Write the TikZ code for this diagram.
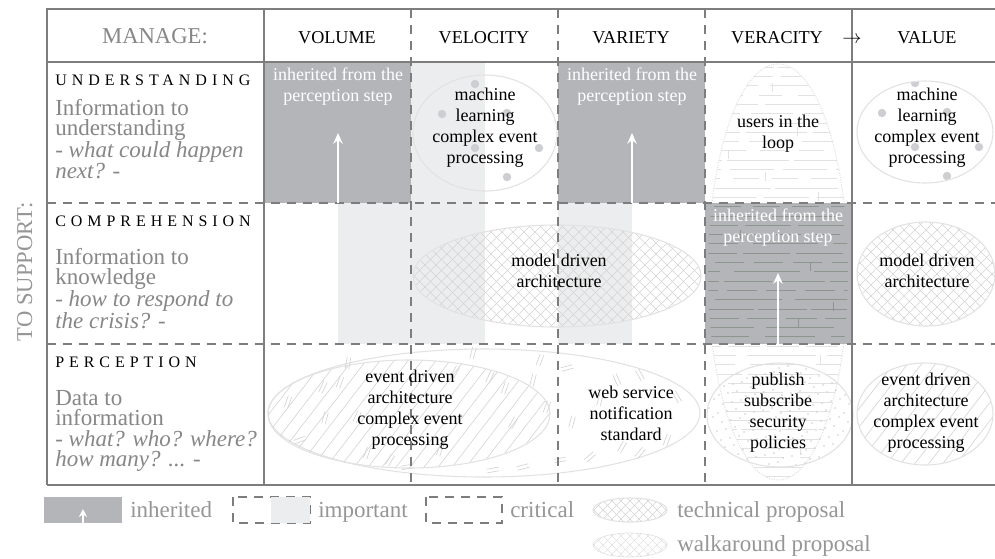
\documentclass[tikz,border=0pt]{standalone}
\usepackage{fontspec}
\setmainfont{Liberation Serif}
\newfontfamily\spacedfont[LetterSpace=31]{Liberation Serif}
\usetikzlibrary{arrows.meta}
\setlength{\lineskiplimit}{-100pt}
\definecolor{inh}{RGB}{179,181,185}
\definecolor{imp}{RGB}{236,237,238}
\definecolor{gridc}{RGB}{125,125,125}
\definecolor{patc}{RGB}{212,212,212}
\definecolor{patl}{RGB}{226,226,226}
\definecolor{dotc}{RGB}{204,206,209}
\definecolor{labc}{RGB}{135,135,135}
\definecolor{legc}{RGB}{150,150,150}
\definecolor{brickdark}{RGB}{140,150,142}
\newcommand{\mlc}[2]{\parbox[t]{#1}{\centering #2}}
\newcommand{\mll}[2]{\parbox[t]{#1}{\raggedright #2}}
% crosshatch clipped to ellipse: cx cy rx ry spacing style
\newcommand{\xhatch}[6]{%
 \begin{scope}
 \clip (#1,#2) ellipse [x radius=#3, y radius=#4];
 \pgfmathtruncatemacro{\nn}{(#3+#4)/#5+2}
 \foreach \k in {-\nn,...,\nn}{%
  \draw[#6] ({#1+\k*#5-(#4+5)},{#2-(#4+5)}) -- ++({2*(#4+5)},{2*(#4+5)});
  \draw[#6] ({#1+\k*#5+(#4+5)},{#2-(#4+5)}) -- ++({-2*(#4+5)},{2*(#4+5)});
 }
 \end{scope}}
% single slash hatch
\newcommand{\slashhatch}[5]{%
 \begin{scope}
 \clip (#1,#2) ellipse [x radius=#3, y radius=#4];
 \pgfmathtruncatemacro{\nn}{(#3+#4)/#5+2}
 \foreach \k in {-\nn,...,\nn}{%
  \draw[patline] ({#1+\k*#5-0.77*(#4+5)},{#2+#4+5}) -- ++({1.54*(#4+5)},{-2*(#4+5)});
 }
 \end{scope}}
% brick lines of the tall veracity ellipse
\newcommand{\bricklines}[1]{%
 \foreach \i in {0,...,44}{%
   \pgfmathsetmacro{\brY}{67+\i*9.3}
   \pgfmathsetmacro{\brA}{0.75*(22+mod(\i*37,55))}
   \pgfmathsetmacro{\brB}{0.75*(4+mod(\i*17,13))}
   \pgfmathsetmacro{\brP}{0.75*mod(\i*53,70)}
   \draw[#1, dash pattern=on \brA pt off \brB pt, dash phase=\brP pt] (700,\brY) -- (860,\brY);
 }
 \foreach \x/\y in {797/127, 765/172, 728/150, 818/192, 833/302, 798/318, 740/230, 810/262, 760/400, 800/445, 745/470, 772/83, 820/355}
   \draw[#1] (\x,\y) -- ({\x},{\y+9});
}
\begin{document}
\begin{tikzpicture}[x=0.75pt,y=-0.75pt,
  body/.style={font=\fontsize{13.5}{15.75}\selectfont, inner sep=0, anchor=base, text=black},
  inhtext/.style={body, text=white},
  head/.style={font=\fontsize{13.6}{16}\selectfont, inner sep=0, anchor=base, text=black},
  rowhead/.style={font=\spacedfont\fontsize{12}{14}\selectfont, inner sep=0, anchor=base west, text=black},
  lab/.style={font=\fontsize{17.25}{15.4}\selectfont, text=labc, inner sep=0, anchor=base west},
  leg/.style={font=\fontsize{17.25}{20}\selectfont, text=legc, inner sep=0, anchor=base west},
  solidline/.style={draw=gridc, line width=0.9pt},
  dashline/.style={draw=gridc, line width=0.9pt, dash pattern=on 7pt off 5pt},
  warrow/.style={draw=white, line width=1.5pt, -{Stealth[length=8pt,width=7pt]}},
  wsmall/.style={draw=white, line width=1.2pt, -{Stealth[length=6pt,width=6pt]}},
  patline/.style={draw=patc, line width=0.45pt},
  patlight/.style={draw=patl, line width=0.45pt},
  ellc/.style={draw=patl, line width=0.8pt},
  tick/.style={draw=patc, line width=0.5pt},
  dotfill/.style={fill=dotc}]
\useasboundingbox (0,0) rectangle (995,558);
\clip (0,0) rectangle (995,558);
\fill[white] (0,0) rectangle (995,558);

% important (light) strips
\fill[imp] (411,62) rectangle (485,203);
\fill[imp] (338,203) rectangle (485,344);
\fill[imp] (558,203) rectangle (632,344);

% inherited boxes (understanding)
\fill[inh] (264,62) rectangle (411,203);
\fill[inh] (558,62) rectangle (705,203);

% dotted ellipses (understanding)
\begin{scope}
 \clip (485,133) ellipse [x radius=72, y radius=58];
 \foreach \dx/\dy in {-10/-49,-43/-19,22/-20,-10/15,54/15,22/44}
   \fill[dotfill] ({485+\dx},{133+\dy}) circle [radius=4.2];
\end{scope}
\draw[ellc] (485,133) ellipse [x radius=72, y radius=58];
\begin{scope}
 \clip (925,132) ellipse [x radius=68, y radius=51];
 \foreach \dx/\dy in {-10/-49,-43/-19,22/-20,-10/15,54/15,22/44}
   \fill[dotfill] ({925+\dx},{132+\dy}) circle [radius=4.2];
\end{scope}
\draw[ellc] (925,132) ellipse [x radius=68, y radius=51];

% tall veracity ellipse with brick lines
\begin{scope}
 \clip (778,272) ellipse [x radius=70, y radius=208];
 \bricklines{patlight}
\end{scope}
\draw[patl, line width=0.8pt, densely dotted] (778,272) ellipse [x radius=70, y radius=208];

% crosshatch ellipses (comprehension)
\xhatch{557}{276}{144}{51}{11}{patline}
\draw[ellc] (557,276) ellipse [x radius=144, y radius=51];
\xhatch{926}{274}{69}{52}{11}{patline}
\draw[ellc] (926,274) ellipse [x radius=69, y radius=52];

% perception: outer walkaround ellipse with marks
\draw[ellc] (484,413) ellipse [x radius=216, y radius=64];
\slashhatch{409}{414}{141}{54}{14}
\draw[ellc] (409,414) ellipse [x radius=141, y radius=54];
\foreach \x/\y/\a in {288/402/70, 323/387/65, 325/418/75, 340/382/70, 348/363/80, 357/417/65,
   367/453/70, 390/460/60, 407/467/10, 473/353/75, 490/377/65, 493/470/10, 505/388/70,
   513/423/60, 523/467/15, 533/380/75, 540/360/70, 567/368/15, 572/422/75, 547/407/70,
   617/380/115, 640/375/120, 622/447/60, 640/453/50, 667/440/70, 677/397/120, 590/457/40,
   560/460/10, 300/440/20, 440/450/70, 455/372/60, 600/400/75}
 {\begin{scope}[shift={(\x,\y)}, rotate=\a]
   \draw[tick] (-6,-1.8) -- (6,-1.8) (-6,1.8) -- (6,1.8);
  \end{scope}}

% value perception slash ellipse
\slashhatch{925}{414}{68}{51}{14}
\draw[ellc] (925,414) ellipse [x radius=68, y radius=51];

% publish subscribe dotted ellipse
\begin{scope}
 \clip (780,415) ellipse [x radius=73, y radius=52];
 \foreach \i in {0,...,16}{\foreach \j in {0,...,11}{%
   \pgfmathsetmacro{\dotX}{707+\i*9+mod(\j*4,9)}
   \pgfmathsetmacro{\dotY}{363+\j*9+mod(\i*5,7)}
   \fill[dotc] (\dotX,\dotY) circle [radius=0.8];
 }}
\end{scope}
\draw[ellc] (780,415) ellipse [x radius=73, y radius=52];

% veracity comprehension inherited box with dark brick lines
\fill[inh] (705,203) rectangle (852,344);
\begin{scope}
 \clip (705,203) rectangle (852,344);
 \clip (778,272) ellipse [x radius=70, y radius=208];
 \bricklines{brickdark}
\end{scope}

% grid
\draw[solidline] (47,485) -- (47,9) -- (995,9);
\draw[solidline] (47,485) -- (995,485);
\draw[solidline] (47,62) -- (995,62);
\draw[solidline] (264,9) -- (264,485);
\draw[solidline] (852,9) -- (852,485);
\draw[dashline] (411,9) -- (411,485);
\draw[dashline] (558,9) -- (558,485);
\draw[dashline] (705,9) -- (705,485);
\draw[dashline] (47,203) -- (995,203);
\draw[dashline] (47,344) -- (995,344);

% header texts
\node[head, text=labc, font=\fontsize{17}{20}\selectfont] (mg) at (155,43) {MANAGE:};
\node[head] (hvol) at (337,43) {VOLUME};
\node[head] (hvel) at (484,43) {VELOCITY};
\node[head] (hvar) at (631,43) {VARIETY};
\node[head] (hver) at (777,43) {VERACITY};
\node[head] (harr) at (852,43) {$\rightarrow$};
\node[head] (hval) at (927,43) {VALUE};

% row headers
\node[rowhead] (ru) at (55,85) {UNDERSTANDING};
\node[lab] (tu) at (55,115) {\mll{220pt}{Information to\\understanding\\\textit{- what could happen}\\\textit{next? -}}};
\node[rowhead] (rc) at (55,226) {COMPREHENSION};
\node[lab] (tc) at (55,264) {\mll{220pt}{Information to\\knowledge\\\textit{- how to respond to}\\\textit{the crisis? -}}};
\node[rowhead] (rp) at (55,367) {PERCEPTION};
\node[lab] (tp) at (55,405) {\mll{220pt}{Data to\\information\\\textit{- what? who? where?}\\\textit{how many? ... -}}};
\node[rotate=90, anchor=base, inner sep=0, text=legc, font=\fontsize{17}{20}\selectfont] (ts) at (32,272) {TO SUPPORT:};

% cell texts
\node[inhtext] (i1) at (338,80) {\mlc{140pt}{inherited from the\\perception step}};
\node[inhtext] (i2) at (632,80) {\mlc{140pt}{inherited from the\\perception step}};
\node[inhtext] (i3) at (778,221) {\mlc{140pt}{inherited from the\\perception step}};
\node[body] (ml1) at (485,100) {\mlc{140pt}{machine\\learning\\complex event\\processing}};
\node[body] (ml2) at (927,100) {\mlc{140pt}{machine\\learning\\complex event\\processing}};
\node[body] (ul) at (778,127) {\mlc{140pt}{users in the\\loop}};
\node[body] (md1) at (559,266) {\mlc{140pt}{model driven\\architecture}};
\node[body] (md2) at (927,266) {\mlc{140pt}{model driven\\architecture}};
\node[body] (ed1) at (410,382) {\mlc{140pt}{event driven\\architecture\\complex event\\processing}};
\node[body] (ws) at (631,398) {\mlc{140pt}{web service\\notification\\standard}};
\node[body] (ps) at (778,385) {\mlc{140pt}{publish\\subscribe\\security\\policies}};
\node[body] (ed2) at (926,385) {\mlc{140pt}{event driven\\architecture\\complex event\\processing}};

% inherited arrows
\coordinate (a1s) at (338,203); \coordinate (a1e) at (338,133);
\coordinate (a2s) at (632,203); \coordinate (a2e) at (632,133);
\coordinate (a3s) at (778,344); \coordinate (a3e) at (778,273);
\draw[warrow] (a1s) -- (a1e);
\draw[warrow] (a2s) -- (a2e);
\draw[warrow] (a3s) -- (a3e);

% legend
\fill[inh] (44,497) rectangle (122,523);
\coordinate (las) at (83,523); \coordinate (lae) at (83,509);
\draw[wsmall] (las) -- (lae);
\node[leg] (l1) at (130,517) {inherited};
\draw[dashline] (233,497) rectangle (310,523);
\fill[imp] (271,497) rectangle (310,523);
\node[leg] (l2) at (318,517) {important};
\draw[dashline] (426,497) rectangle (502,523);
\node[leg] (l3) at (510,517) {critical};
\xhatch{630}{510}{37}{12}{9}{patline}
\draw[ellc] (630,510) ellipse [x radius=37, y radius=12];
\node[leg] (l4) at (677,517) {technical proposal};
\xhatch{630}{545}{37}{12}{9}{patlight}
\draw[patl, line width=0.5pt] (630,545) ellipse [x radius=37, y radius=12];
\node[leg] (l5) at (677,551) {walkaround proposal};
\end{tikzpicture}
\end{document}
